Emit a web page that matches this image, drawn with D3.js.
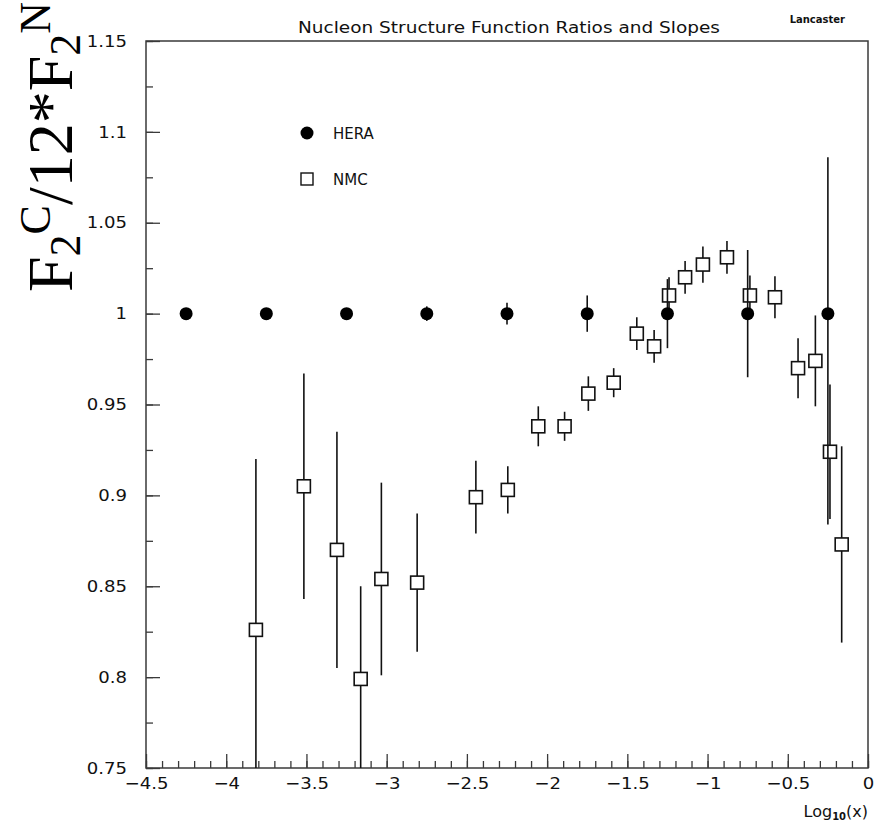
<!DOCTYPE html>
<html>
<head>
<meta charset="utf-8">
<script src="https://cdn.jsdelivr.net/npm/d3@7"></script>
<style>
  body { margin: 0; background: #fff; }
  svg { display: block; }
</style>
</head>
<body>
<svg id="chart" width="877" height="824"></svg>
<script>
// HERA points: ratio fixed at 1 with their uncertainties
const heraX = [-4.25, -3.75, -3.25, -2.75, -2.25, -1.75, -1.25, -0.75, -0.25];
const heraY = [1, 1, 1, 1, 1, 1, 1, 1, 1];
const heraErrUp = [0, 0.001, 0.002, 0.004, 0.006, 0.010, 0.019, 0.035, 0.086];
const heraErrDown = [0, 0.001, 0.002, 0.004, 0.006, 0.010, 0.019, 0.035, 0.116];

// NMC measurements of F2(C)/12*F2(N)
const nmcX = [-3.815, -3.516, -3.310, -3.162, -3.033, -2.810, -2.444, -2.245, -2.055, -1.891,
              -1.743, -1.585, -1.441, -1.333, -1.240, -1.140, -1.029, -0.879, -0.736, -0.580,
              -0.436, -0.328, -0.237, -0.164];
const nmcY = [0.826, 0.905, 0.870, 0.799, 0.854, 0.852, 0.899, 0.903, 0.938, 0.938,
              0.956, 0.962, 0.989, 0.982, 1.010, 1.020, 1.027, 1.031, 1.010, 1.009,
              0.970, 0.974, 0.924, 0.873];
const nmcErr = [0.094, 0.062, 0.065, 0.051, 0.053, 0.038, 0.020, 0.013, 0.011, 0.008,
                0.0095, 0.008, 0.009, 0.009, 0.010, 0.009, 0.010, 0.009, 0.011, 0.0115,
                0.0165, 0.025, 0.037, 0.054];

// Axis ticks
const xMajor = [-4.5, -4, -3.5, -3, -2.5, -2, -1.5, -1, -0.5, 0];
const xLabels = ["\u22124.5", "\u22124", "\u22123.5", "\u22123", "\u22122.5", "\u22122", "\u22121.5", "\u22121", "\u22120.5", "0"];
const yMajor = [0.75, 0.8, 0.85, 0.9, 0.95, 1, 1.05, 1.1, 1.15];
const yLabels = ["0.75", "0.8", "0.85", "0.9", "0.95", "1", "1.05", "1.1", "1.15"];

const titleText = "Nucleon Structure Function Ratios and Slopes";
const legendNames = ["HERA", "NMC"];

const frame = { left: 146, right: 868, top: 41, bottom: 768 };
const svg = d3.select("#chart");

const x = d3.scaleLinear().domain([-4.5, 0]).range([frame.left, frame.right]);
const y = d3.scaleLinear().domain([0.75, 1.15]).range([frame.bottom, frame.top]);

const sans = "'DejaVu Sans', sans-serif";
const ink = "#111";
const frameInk = "#3a3a3a";

// clip region for data marks
svg.append("defs").append("clipPath").attr("id", "plotClip")
  .append("rect")
  .attr("x", frame.left).attr("y", frame.top)
  .attr("width", frame.right - frame.left).attr("height", frame.bottom - frame.top);

// stretch helper for the wide plotting font
function widen(sel, k) {
  sel.each(function () {
    const t = d3.select(this);
    const x0 = +t.attr("x") || 0;
    t.attr("x", x0 / k).attr("transform", `scale(${k},1)`);
  });
}

// ---- axes ----
const xMinor = d3.range(-4.5, 0.0001, 0.1).map(v => Math.round(v * 10) / 10);
const yMinor = d3.range(0.75, 1.1501, 0.025).map(v => Math.round(v * 1000) / 1000);

const gxMinor = svg.append("g").attr("transform", `translate(0,${frame.bottom})`)
  .call(d3.axisBottom(x).tickValues(xMinor).tickSizeInner(-7).tickSizeOuter(0).tickFormat(""));
const gx = svg.append("g").attr("transform", `translate(0,${frame.bottom})`)
  .call(d3.axisBottom(x).tickValues(xMajor).tickSizeInner(-14).tickSizeOuter(0).tickPadding(10)
        .tickFormat((d, i) => xLabels[i]));
const gyMinor = svg.append("g").attr("transform", `translate(${frame.left},0)`)
  .call(d3.axisLeft(y).tickValues(yMinor).tickSizeInner(-7).tickSizeOuter(0).tickFormat(""));
const gy = svg.append("g").attr("transform", `translate(${frame.left},0)`)
  .call(d3.axisLeft(y).tickValues(yMajor).tickSizeInner(-14).tickSizeOuter(0).tickPadding(19)
        .tickFormat((d, i) => yLabels[i]));

[gxMinor, gx, gyMinor, gy].forEach(g => {
  g.select(".domain").remove();
  g.selectAll(".tick line").attr("stroke", frameInk).attr("stroke-width", 1.3);
  g.selectAll("text").attr("font-family", sans).attr("font-size", 16).attr("fill", ink);
});
widen(gx.selectAll(".tick text"), 1.13);
widen(gy.selectAll(".tick text"), 1.13);

// frame box
svg.append("rect")
  .attr("x", frame.left).attr("y", frame.top)
  .attr("width", frame.right - frame.left).attr("height", frame.bottom - frame.top)
  .attr("fill", "none").attr("stroke", frameInk).attr("stroke-width", 1.5);

// ---- data ----
const plot = svg.append("g").attr("clip-path", "url(#plotClip)");

const nmc = nmcX.map((v, i) => ({ x: v, y: nmcY[i], lo: nmcY[i] - nmcErr[i], hi: nmcY[i] + nmcErr[i] }));
const hera = heraX.map((v, i) => ({ x: v, y: heraY[i], lo: heraY[i] - heraErrDown[i], hi: heraY[i] + heraErrUp[i] }));

const sq = 13;
plot.append("g").selectAll("line").data(nmc).join("line")
  .attr("x1", d => x(d.x)).attr("x2", d => x(d.x))
  .attr("y1", d => y(d.lo)).attr("y2", d => y(d.hi))
  .attr("stroke", ink).attr("stroke-width", 1.6);
plot.append("g").selectAll("rect").data(nmc).join("rect")
  .attr("x", d => x(d.x) - sq / 2).attr("y", d => y(d.y) - sq / 2)
  .attr("width", sq).attr("height", sq)
  .attr("fill", "#fff").attr("stroke", ink).attr("stroke-width", 1.6);

plot.append("g").selectAll("line").data(hera).join("line")
  .attr("x1", d => x(d.x)).attr("x2", d => x(d.x))
  .attr("y1", d => y(d.lo)).attr("y2", d => y(d.hi))
  .attr("stroke", ink).attr("stroke-width", 1.6);
plot.append("g").selectAll("circle").data(hera).join("circle")
  .attr("cx", d => x(d.x)).attr("cy", d => y(d.y)).attr("r", 6.5)
  .attr("fill", "#000");

// ---- legend ----
const leg = svg.append("g");
leg.append("circle").attr("cx", 307).attr("cy", 133).attr("r", 6.5).attr("fill", "#000");
leg.append("rect").attr("x", 301).attr("y", 173).attr("width", 12).attr("height", 12)
  .attr("fill", "#fff").attr("stroke", ink).attr("stroke-width", 1.4);
leg.selectAll("text").data(legendNames).join("text")
  .attr("x", 333).attr("y", (d, i) => 139 + i * 46)
  .attr("font-family", sans).attr("font-size", 15).attr("fill", ink)
  .text(d => d);

// ---- titles ----
svg.append("text")
  .attr("x", 509).attr("y", 33).attr("text-anchor", "middle")
  .attr("font-family", sans).attr("font-size", 15).attr("fill", ink)
  .attr("textLength", 422).attr("lengthAdjust", "spacingAndGlyphs")
  .text(titleText);

svg.append("text")
  .attr("x", 845).attr("y", 23).attr("text-anchor", "end")
  .attr("font-family", sans).attr("font-size", 10).attr("font-weight", "bold").attr("fill", ink)
  .text("Lancaster");

// x-axis title: Log10(x)
const xt = svg.append("text")
  .attr("x", frame.right).attr("y", 817).attr("text-anchor", "end")
  .attr("font-family", sans).attr("font-size", 16).attr("fill", ink);
xt.append("tspan").text("Log");
xt.append("tspan").attr("font-size", 10).attr("font-weight", "bold").attr("dy", 3).text("10");
xt.append("tspan").attr("dy", -3).text("(x)");

// y-axis title: F2C/12*F2N in serif
const yt = svg.append("text")
  .attr("transform", "translate(72,292) rotate(-90)")
  .attr("font-family", "'Liberation Serif', 'Times New Roman', serif")
  .attr("font-size", 64).attr("fill", "#000");
yt.append("tspan").text("F");
yt.append("tspan").attr("font-size", 44).attr("dy", 8).text("2");
yt.append("tspan").attr("font-size", 44).attr("dy", -30).text("C");
yt.append("tspan").attr("dy", 22).text("/12*F");
yt.append("tspan").attr("font-size", 44).attr("dy", 8).text("2");
yt.append("tspan").attr("font-size", 44).attr("dy", -30).text("N");
</script>
</body>
</html>
